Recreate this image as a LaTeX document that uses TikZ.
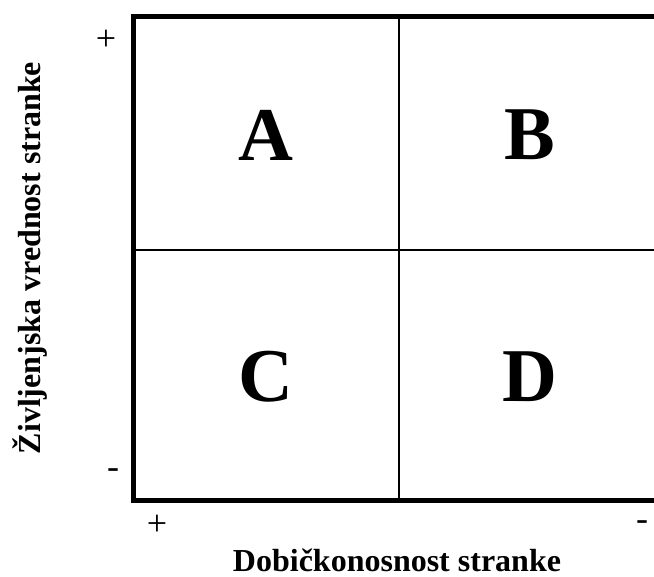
\documentclass[tikz,border=0pt]{standalone}
\usepackage{fontspec}
\setmainfont{Liberation Serif}
\begin{document}
\begin{tikzpicture}[x=1pt,y=1pt,
  thickline/.style={line width=5pt, line cap=rect},
  thinline/.style={line width=1.5pt},
  quad/.style={font=\fontsize{76}{80}\selectfont\bfseries, inner sep=0pt},
  sign/.style={font=\fontsize{36}{38}\selectfont, inner sep=0pt},
  axislabel/.style={font=\fontsize{32}{34}\selectfont\bfseries, inner sep=0pt}]
\useasboundingbox (0,0) rectangle (654,-577);
\coordinate (tl) at (133.5,-16.5);
\coordinate (tr) at (656,-16.5);
\coordinate (bl) at (133.5,-501);
\coordinate (br) at (656,-501);
\coordinate (vt) at (399,-16.5);
\coordinate (vb) at (399,-501);
\coordinate (hl) at (133.5,-250);
\coordinate (hr) at (656,-250);
\draw[thinline] (vt) -- (vb);
\draw[thinline] (hl) -- (hr);
\draw[thickline] (tr) -- (tl) -- (bl) -- (br);
\node[quad] (A) at (266,-135) {A};
\node[quad] (B) at (530,-135) {B};
\node[quad] (C) at (266,-377) {C};
\node[quad] (D) at (530,-377) {D};
\node[sign] (yp) at (106,-40) {+};
\node[sign] (ym) at (113,-474) {-};
\node[sign] (xp) at (157,-525) {+};
\node[sign] (xm) at (642,-526) {-};
\node[axislabel, anchor=base] (xl) at (397,-571) {Dobičkonosnost stranke};
\node[axislabel, anchor=base, rotate=90] (yl) at (40,-258) {Življenjska vrednost stranke};
\end{tikzpicture}
\end{document}
